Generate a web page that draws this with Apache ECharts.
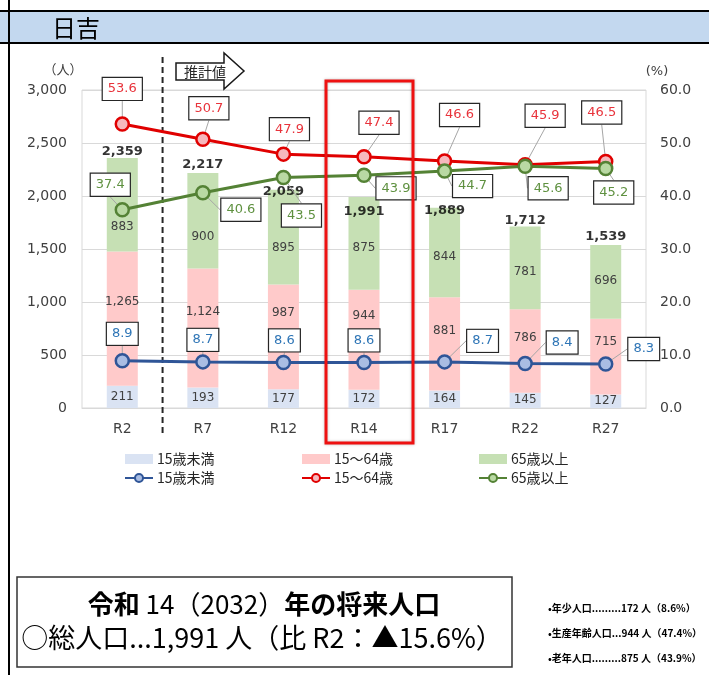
<!DOCTYPE html>
<html>
<head>
<meta charset="utf-8">
<script src="https://cdn.jsdelivr.net/npm/echarts@6/dist/echarts.min.js"></script>
<style>
html,body{margin:0;padding:0;background:#fff;}
#chart{width:709px;height:675px;}
</style>
</head>
<body>
<div id="chart"></div>
<script>
// 年次区分
const categories = ['R2', 'R7', 'R12', 'R14', 'R17', 'R22', 'R27'];
// 年齢3区分別人口（人）
const youngPop = [211, 193, 177, 172, 164, 145, 127];
const workingPop = [1265, 1124, 987, 944, 881, 786, 715];
const elderlyPop = [883, 900, 895, 875, 844, 781, 696];
const totalPop = [2359, 2217, 2059, 1991, 1889, 1712, 1539];
// 年齢3区分別人口構成比（%）
const youngRate = [8.9, 8.7, 8.6, 8.6, 8.7, 8.4, 8.3];
const workingRate = [53.6, 50.7, 47.9, 47.4, 46.6, 45.9, 46.5];
const elderlyRate = [37.4, 40.6, 43.5, 43.9, 44.7, 45.6, 45.2];
// 凡例名
const groupNames = ['15歳未満', '15～64歳', '65歳以上'];
const RATE_SUFFIX = '（構成比）';

// ラベル配置の微調整（px）
const workingLabelShift = [-17, -16, -24, -24, -13, -13, -15];
const elderlyLabelShift = [22, 16, 11, 5, 4, 4, -1];
const totalLabelShift = [-6, -8, 2, 15, 3, -6, -8];
const workingRateLabelMove = [[0, -35], [6, -31], [6, -25], [15, -34], [15, -46], [20, -49], [-4, -49]];
const elderlyRateLabelMove = [[-12, -25], [38, 17], [18, 38], [32, 13], [28, 15], [23, 22], [8, 24]];
const youngRateLabelMove = [[0, -27], [0, -22], [1, -22], [0, -22], [38, -21], [37, -21], [38, -15]];

const focusIdx = categories.indexOf('R14');

const NUM_FONT = 'DejaVu Sans, "Noto Sans CJK JP", sans-serif';
const JP_FONT = '"Noto Sans CJK JP", "Noto Sans", sans-serif';
const fmt = v => Number(v).toLocaleString('en-US');

const chart = echarts.init(document.getElementById('chart'), null, { renderer: 'canvas' });

function stackedBar(name, values, color, shifts) {
  return {
    name: name,
    type: 'bar',
    stack: 'pop',
    barWidth: 31,
    itemStyle: { color: color },
    z: 2,
    label: {
      show: true,
      position: 'inside',
      color: '#404040',
      fontSize: 12,
      fontFamily: NUM_FONT,
      formatter: p => fmt(p.value)
    },
    data: values.map((v, i) => shifts ? { value: v, label: { offset: [0, shifts[i]] } } : v)
  };
}

function rateLine(name, values, lineColor, fillColor, textColor, moves) {
  return {
    name: name + RATE_SUFFIX,
    type: 'line',
    yAxisIndex: 1,
    z: 5,
    symbol: 'circle',
    symbolSize: 13,
    lineStyle: { color: lineColor, width: 3 },
    itemStyle: { color: fillColor, borderColor: lineColor, borderWidth: 2.5 },
    label: {
      show: true,
      position: 'inside',
      formatter: p => p.value.toFixed(1),
      color: textColor,
      fontSize: 13,
      fontFamily: NUM_FONT,
      backgroundColor: '#ffffff',
      borderColor: '#262626',
      borderWidth: 1.2,
      padding: [5, 5, 4, 5]
    },
    labelLine: {
      show: true,
      lineStyle: { color: '#a6a6a6', width: 1 }
    },
    labelLayout: params => ({ dx: moves[params.dataIndex][0], dy: moves[params.dataIndex][1] }),
    emphasis: { disabled: true },
    data: values
  };
}

const option = {
  animation: false,
  backgroundColor: '#ffffff',
  grid: {
    left: 82, right: 63, top: 90, bottom: 267,
    show: true, borderColor: '#d9d9d9', borderWidth: 1
  },
  legend: groupNames.map((g, k) => ({
    orient: 'vertical',
    left: [119, 296, 473][k],
    top: 447,
    itemWidth: 28,
    itemHeight: 10,
    itemGap: 5,
    selectedMode: false,
    textStyle: { fontSize: 14, color: '#262626', fontFamily: JP_FONT, padding: [0, 0, 0, -1] },
    formatter: n => n.replace(RATE_SUFFIX, ''),
    data: [{ name: g, icon: 'rect' }, { name: g + RATE_SUFFIX }]
  })),
  xAxis: {
    type: 'category',
    data: categories,
    axisTick: { show: false },
    axisLine: { lineStyle: { color: '#d9d9d9' } },
    axisLabel: { fontSize: 14, color: '#404040', fontFamily: NUM_FONT, margin: 14 }
  },
  yAxis: [
    {
      type: 'value', min: 0, max: 3000, interval: 500,
      name: '（人）',
      nameGap: 14,
      nameTextStyle: { fontSize: 13, color: '#404040', fontFamily: JP_FONT, align: 'center', padding: [0, 38, 0, 0] },
      axisLine: { show: false },
      axisTick: { show: false },
      splitLine: { lineStyle: { color: '#d9d9d9' } },
      axisLabel: { fontSize: 14, color: '#404040', fontFamily: NUM_FONT, margin: 15, formatter: v => fmt(v) }
    },
    {
      type: 'value', min: 0, max: 60, interval: 10,
      name: '(%)',
      nameGap: 12,
      nameTextStyle: { fontSize: 13, color: '#404040', fontFamily: NUM_FONT, align: 'center', padding: [0, 0, 0, 22] },
      axisLine: { show: false },
      axisTick: { show: false },
      splitLine: { show: false },
      axisLabel: { fontSize: 14, color: '#404040', fontFamily: NUM_FONT, margin: 14, formatter: v => v.toFixed(1) }
    }
  ],
  series: [
    stackedBar(groupNames[0], youngPop, '#dae3f3', null),
    stackedBar(groupNames[1], workingPop, '#ffcaca', workingLabelShift),
    stackedBar(groupNames[2], elderlyPop, '#c6e0b4', elderlyLabelShift),
    {
      name: '総人口',
      type: 'scatter',
      symbolSize: 1,
      itemStyle: { color: 'rgba(0,0,0,0)' },
      silent: true,
      z: 3,
      label: {
        show: true,
        position: 'inside',
        color: '#000000',
        fontWeight: 'bold',
        fontSize: 13,
        fontFamily: NUM_FONT,
        formatter: p => fmt(p.value)
      },
      data: totalPop.map((v, i) => ({ value: v, label: { offset: [0, totalLabelShift[i]] } }))
    },
    rateLine(groupNames[0], youngRate, '#2f5597', '#a9bde3', '#2e75b6', youngRateLabelMove),
    rateLine(groupNames[1], workingRate, '#e00000', '#f6b8bd', '#e8333b', workingRateLabelMove),
    rateLine(groupNames[2], elderlyRate, '#548235', '#b9d9a3', '#5f9140', elderlyRateLabelMove)
  ]
};

chart.setOption(option);

// 枠・見出し・注記
const xOf = i => chart.convertToPixel({ xAxisIndex: 0 }, categories[i]);
const boundaryX = (xOf(0) + xOf(1)) / 2;
const focusX = xOf(focusIdx);
const decline = ((totalPop[0] - totalPop[focusIdx]) / totalPop[0] * 100).toFixed(1);
const NOTE_FONT = 'bold 10px "Noto Sans CJK JP"';

chart.setOption({
  graphic: [
    { type: 'rect', z: 0, shape: { x: 0, y: 11, width: 709, height: 32 }, style: { fill: '#c3d8ef' } },
    { type: 'line', z: 1, shape: { x1: 9, y1: 0, x2: 9, y2: 675 }, style: { stroke: '#000', lineWidth: 2 } },
    { type: 'line', z: 1, shape: { x1: 0, y1: 11, x2: 709, y2: 11 }, style: { stroke: '#000', lineWidth: 2 } },
    { type: 'line', z: 1, shape: { x1: 0, y1: 43, x2: 709, y2: 43 }, style: { stroke: '#000', lineWidth: 2 } },
    { type: 'text', z: 1, style: { text: '日吉', x: 52, y: 28, verticalAlign: 'middle', font: '24px "Noto Sans CJK JP"', fill: '#000' } },
    {
      type: 'line', z: 1,
      shape: { x1: boundaryX, y1: 57, x2: boundaryX, y2: 436 },
      style: { stroke: '#262626', lineWidth: 2, lineDash: [6, 4] }
    },
    {
      type: 'polygon', z: 1,
      shape: { points: [[176, 63], [224, 63], [224, 53], [244, 71], [224, 89], [224, 80], [176, 80]] },
      style: { fill: '#fff', stroke: '#1a1a1a', lineWidth: 1.5 }
    },
    { type: 'text', z: 2, style: { text: '推計値', x: 205, y: 72, align: 'center', verticalAlign: 'middle', font: '14px "Noto Sans CJK JP"', fill: '#262626' } },
    {
      type: 'rect', z: 10,
      shape: { x: focusX - 38, y: 81, width: 87, height: 362 },
      style: { fill: 'none', stroke: '#ee1111', lineWidth: 3, shadowBlur: 3, shadowColor: 'rgba(0,0,0,0.25)' }
    },
    {
      type: 'rect', z: 1,
      shape: { x: 17, y: 577, width: 495, height: 90 },
      style: { fill: '#fff', stroke: '#333', lineWidth: 1.5 }
    },
    {
      type: 'text', z: 2,
      style: {
        text: '{b|令和}{n| ' + categories[focusIdx].slice(1) + '（2032）}{b|年の将来人口}',
        x: 264, y: 604, align: 'center', verticalAlign: 'middle',
        rich: {
          b: { font: 'bold 26px "Noto Sans CJK JP"', fill: '#000' },
          n: { font: '26px "Noto Sans CJK JP"', fill: '#000' }
        }
      }
    },
    {
      type: 'text', z: 2,
      style: {
        text: '○総人口...' + fmt(totalPop[focusIdx]) + ' 人（比 ' + categories[0] + '：▲' + decline + '%）',
        x: 262, y: 638, align: 'center', verticalAlign: 'middle',
        font: '27px "Noto Sans CJK JP"', fill: '#000'
      }
    },
    {
      type: 'text', z: 2,
      style: { text: '•年少人口.........' + youngPop[focusIdx] + ' 人（' + youngRate[focusIdx].toFixed(1) + '%）', x: 548, y: 608, verticalAlign: 'middle', font: NOTE_FONT, fill: '#000' }
    },
    {
      type: 'text', z: 2,
      style: { text: '•生産年齢人口...' + workingPop[focusIdx] + ' 人（' + workingRate[focusIdx].toFixed(1) + '%）', x: 548, y: 633, verticalAlign: 'middle', font: NOTE_FONT, fill: '#000' }
    },
    {
      type: 'text', z: 2,
      style: { text: '•老年人口.........' + elderlyPop[focusIdx] + ' 人（' + elderlyRate[focusIdx].toFixed(1) + '%）', x: 548, y: 658, verticalAlign: 'middle', font: NOTE_FONT, fill: '#000' }
    }
  ]
});
</script>
</body>
</html>
